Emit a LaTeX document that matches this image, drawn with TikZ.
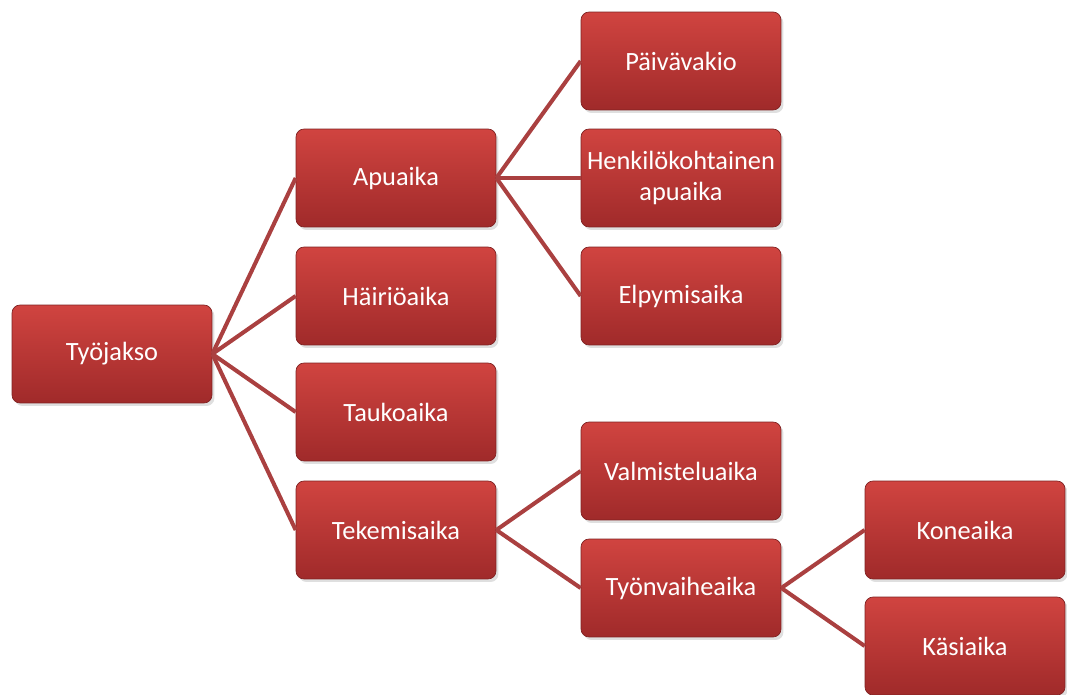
\documentclass[tikz,border=0pt]{standalone}
\usepackage{fontspec}
\setmainfont{Carlito}
\usetikzlibrary{shadows,positioning,calc}
\definecolor{boxtop}{RGB}{208,68,64}
\definecolor{boxbottom}{RGB}{160,42,42}
\definecolor{linkred}{RGB}{170,64,64}

\begin{document}
\begin{tikzpicture}[
    x=0.02cm, y=-0.02cm,
    box/.style={rectangle, rounded corners=0.16cm, top color=boxtop, bottom color=boxbottom,
                draw=boxbottom!80!black, line width=0.4pt, text=white,
                minimum width=4cm, minimum height=1.96cm, align=center,
                font=\fontsize{15}{17.6}\selectfont,
                drop shadow={opacity=0.25, shadow xshift=0.05cm, shadow yshift=-0.06cm}},
    link/.style={draw=linkred, line width=2.3pt}
]
    \useasboundingbox (0,0) rectangle (1067,695);

    % Root
    \node[box] (tyojakso) at (112,354) {Työjakso};

    % Second level
    \node[box] (apuaika) at (396,178) {Apuaika};
    \node[box] (hairio) at (396,296) {Häiriöaika};
    \node[box] (tauko) at (396,412) {Taukoaika};
    \node[box] (tekemis) at (396,530) {Tekemisaika};

    % Third level
    \node[box] (paivavakio) at (681,61) {Päivävakio};
    \node[box] (henkilo) at (681,178) {Henkilökohtainen\\apuaika};
    \node[box] (elpymis) at (681,296) {Elpymisaika};
    \node[box] (valmistelu) at (681,471) {Valmisteluaika};
    \node[box] (tyonvaihe) at (681,588) {Työnvaiheaika};

    % Fourth level
    \node[box] (kone) at (965,530) {Koneaika};
    \node[box] (kasi) at (965,646) {Käsiaika};

    % Connectors
    \foreach \child in {apuaika,hairio,tauko,tekemis}
        \draw[link] (tyojakso.east) -- (\child.west);
    \foreach \child in {paivavakio,henkilo,elpymis}
        \draw[link] (apuaika.east) -- (\child.west);
    \foreach \child in {valmistelu,tyonvaihe}
        \draw[link] (tekemis.east) -- (\child.west);
    \foreach \child in {kone,kasi}
        \draw[link] (tyonvaihe.east) -- (\child.west);
\end{tikzpicture}
\end{document}
